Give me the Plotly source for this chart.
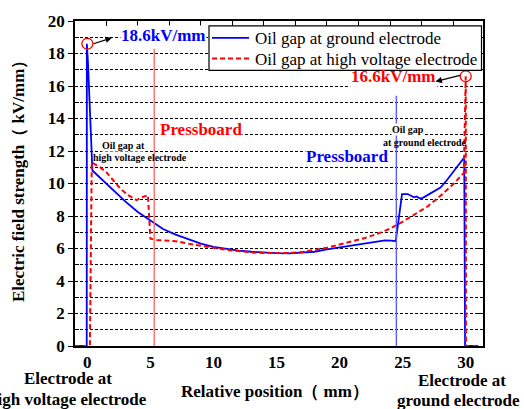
import plotly.graph_objects as go

# ---- data ----
blue_x = [-1, -0.05, -0.04, 0.05, 0.4, 1, 1.5, 2, 3, 4, 5, 5.3, 6, 7, 8, 9, 10, 11, 12, 13, 14, 15,
          16, 17, 18, 19, 20, 21, 22, 23, 23.6, 24.1, 24.45, 24.95, 25.4, 25.9, 26.1, 26.3, 26.6,
          27, 27.5, 28, 28.5, 28.9, 29.2, 29.5, 29.88, 29.95, 31]
blue_y = [0, 0, 18.6, 17.4, 10.8, 10.35, 10.0, 9.6, 8.9, 8.25, 7.7, 7.55, 7.2, 6.85, 6.55, 6.3, 6.1,
          5.97, 5.87, 5.8, 5.74, 5.71, 5.7, 5.73, 5.8, 5.95, 6.07, 6.2, 6.32, 6.45, 6.5, 6.48, 6.45,
          9.35, 9.35, 9.15, 9.2, 9.1, 9.12, 9.3, 9.5, 9.75, 10.2, 10.6, 10.85, 11.2, 11.6, 0, 0]

red_x = [-1, 0.2, 0.35, 0.6, 1, 1.5, 2, 2.6, 3.2, 3.9, 4.3, 4.8, 5.0, 5.5, 6, 7, 8, 9, 10, 11, 12,
         13, 14, 15, 16, 17, 18, 19, 20, 21, 22, 23, 24, 25, 26, 27, 28, 29, 29.85, 30, 30.02, 31]
red_y = [0, 0, 11.3, 11.2, 11.0, 10.7, 10.25, 9.7, 9.3, 8.98, 9.15, 9.28, 6.6, 6.52, 6.5, 6.45, 6.3,
         6.15, 6.04, 5.92, 5.83, 5.76, 5.72, 5.7, 5.72, 5.78, 5.9, 6.05, 6.25, 6.45, 6.65, 6.9, 7.22,
         7.65, 8.1, 8.6, 9.25, 9.95, 10.65, 16.6, 0, 0]

series_names = ["Oil gap at ground electrode", "Oil gap at high voltage electrode"]
series_colors = ["#0000ff", "#ff0000"]
series_dash = ["solid", "5px,3px"]
series_width = [1.8, 2]

# pressboard boundaries (x position, top of line)
board_x = [5.3, 24.5]
board_top = [18.3, 15.4]

# peak markers
peak_x = [0.0, 30.0]
peak_y = [18.6, 16.6]
peak_labels = ["18.6kV/mm", "16.6kV/mm"]

x_ticks = [0, 5, 10, 15, 20, 25, 30]
top_ticks = [-1 + 2.5 * i for i in range(14)]

SERIF = "Liberation Serif, Times New Roman, Times, serif"

# plot-area geometry in pixels (for paper-coordinate helpers)
L, R, T, B = 75, 483, 17, 346


def px(xp):
    return (xp - L) / (R - L)


def py(yp):
    return (B - yp) / (B - T)


fig = go.Figure()
fig.add_trace(go.Scatter(x=blue_x, y=blue_y, mode="lines", name=series_names[0],
                         line=dict(color=series_colors[0], width=series_width[0])))
fig.add_trace(go.Scatter(x=red_x, y=red_y, mode="lines", name=series_names[1],
                         line=dict(color=series_colors[1], width=series_width[1],
                                   dash=series_dash[1])))
# dummy trace for the secondary axes (top ticks / right ticks)
fig.add_trace(go.Scatter(x=[None], y=[None], xaxis="x2", yaxis="y2", showlegend=False,
                         hoverinfo="skip", mode="lines"))

# pressboard separators
fig.add_shape(type="line", x0=board_x[0], x1=board_x[0], y0=0, y1=board_top[0],
              line=dict(color="#ff6a6a", width=1.4))
fig.add_shape(type="line", x0=board_x[1], x1=board_x[1], y0=0, y1=board_top[1],
              line=dict(color="#5a5aff", width=1.4))

# white patch hiding grid behind the 16.6 label (between grid and traces)
fig.add_shape(type="rect", x0=20.85, x1=27.75, y0=15.93, y1=16.75, layer="between",
              line=dict(width=0), fillcolor="white")

# circles at peaks
for cx, cy in zip(peak_x, peak_y):
    fig.add_shape(type="circle", xref="x", yref="y", xsizemode="pixel", ysizemode="pixel",
                  xanchor=cx, yanchor=cy, x0=-5.5, x1=5.5, y0=-5.5, y1=5.5,
                  line=dict(color="#ff0000", width=1.3))

# legend box (drawn manually to match the compact spacing)
fig.add_shape(type="rect", xref="paper", yref="paper", x0=px(209), x1=px(481.5),
              y0=py(67), y1=py(22), layer="above", fillcolor="white",
              line=dict(color="black", width=1.2))
legend_rows = [34, 55]
for i, yy in enumerate(legend_rows):
    fig.add_shape(type="line", xref="paper", yref="paper", x0=px(212), x1=px(249),
                  y0=py(yy), y1=py(yy), layer="above",
                  line=dict(color=series_colors[i], width=series_width[i], dash=series_dash[i]))


def ann(x, y, text, size=17, color="black", xref="x", yref="y", angle=0, xanchor="center",
        bg=None):
    fig.add_annotation(x=x, y=y, xref=xref, yref=yref, text=text, showarrow=False,
                       xanchor=xanchor, yanchor="middle", textangle=angle,
                       bgcolor=bg, borderpad=0,
                       font=dict(family=SERIF, size=size, color=color))


for i, yy in enumerate(legend_rows):
    ann(px(254), py(yy + 1), series_names[i], xref="paper", yref="paper", xanchor="left")

# arrows
fig.add_annotation(x=1.95, y=18.97, ax=-20, ay=6.5, text="", showarrow=True, arrowhead=2,
                   arrowsize=1, arrowwidth=1.3, arrowcolor="black")
fig.add_annotation(x=27.6, y=16.27, ax=26, ay=-6.5, text="", showarrow=True, arrowhead=2,
                   arrowsize=1, arrowwidth=1.3, arrowcolor="black")

# peak labels
ann(2.6, peak_y[0] + 0.5, "<b>%s</b>" % peak_labels[0], color="#0000ff", xanchor="left",
    bg="white")
ann(27.75, peak_y[1] + 0.0, "<b>%s</b>" % peak_labels[1], color="#ff0000", xanchor="right")

# region labels
ann(9.0, 13.35, "<b>Pressboard</b>", color="#ff0000", bg="white")
ann(20.6, 11.65, "<b>Pressboard</b>", color="#0000ff", bg="white")
ann(2.9, 12.35, "<b>Oil gap at</b>", size=10, bg="white")
ann(4.18, 11.58, "<b>high voltage electrode</b>", size=10)
ann(25.45, 13.3, "<b>Oil gap</b>", size=10, bg="white")
ann(26.75, 12.55, "<b>at ground electrode</b>", size=10)

# axis titles and electrode labels
ann(px(18), py(175), "<b>Electric field strength（ kV/mm）</b>",
    xref="paper", yref="paper", angle=-90)
ann(px(275), py(392), "<b>Relative position（ mm）</b>", xref="paper", yref="paper")
ann(px(68), py(379), "<b>Electrode at</b>", xref="paper", yref="paper")
ann(px(67), py(400), "<b>high voltage electrode</b>", xref="paper", yref="paper")
ann(px(462), py(381), "<b>Electrode at</b>", xref="paper", yref="paper")
ann(px(458), py(401.5), "<b>ground electrode</b>", xref="paper", yref="paper")

XR = [-0.98, 31.37]
fig.update_layout(
    width=524, height=409,
    margin=dict(l=L, r=524 - R, t=T, b=409 - B),
    paper_bgcolor="white", plot_bgcolor="white",
    font=dict(family=SERIF, size=17, color="black"),
    showlegend=False,
    xaxis=dict(range=XR, tickvals=x_ticks, ticktext=["<b>%d</b>" % v for v in x_ticks],
               ticks="", showgrid=False, zeroline=False,
               showline=True, linecolor="black", linewidth=1.5, mirror=True,
               tickfont=dict(family=SERIF, size=17), ticklabelstandoff=0),
    xaxis2=dict(range=XR, overlaying="x", side="top", anchor="y", tickvals=top_ticks,
                ticks="inside", ticklen=5, tickcolor="black", showticklabels=False,
                showgrid=False, zeroline=False, showline=False),
    yaxis=dict(range=[0, 20], tickvals=list(range(0, 21, 2)),
               ticktext=["<b>%d</b>" % v for v in range(0, 21, 2)],
               ticks="outside", ticklen=5, tickcolor="black",
               showgrid=True, gridcolor="black", gridwidth=1, griddash="3px,2px",
               zeroline=False, showline=True, linecolor="black", linewidth=1.5, mirror=True,
               tickfont=dict(family=SERIF, size=17),
               minor=dict(tickvals=list(range(1, 20, 2)), ticks="inside", ticklen=4,
                          tickcolor="black", showgrid=True, gridcolor="black", gridwidth=1,
                          griddash="3px,2px")),
    yaxis2=dict(range=[0, 20], overlaying="y", side="right", anchor="x", dtick=2,
                ticks="inside", ticklen=5, tickcolor="black", showticklabels=False,
                showgrid=False, zeroline=False, showline=False,
                minor=dict(dtick=1, ticks="inside", ticklen=3, tickcolor="black")),
)

fig.write_html("out.html")
